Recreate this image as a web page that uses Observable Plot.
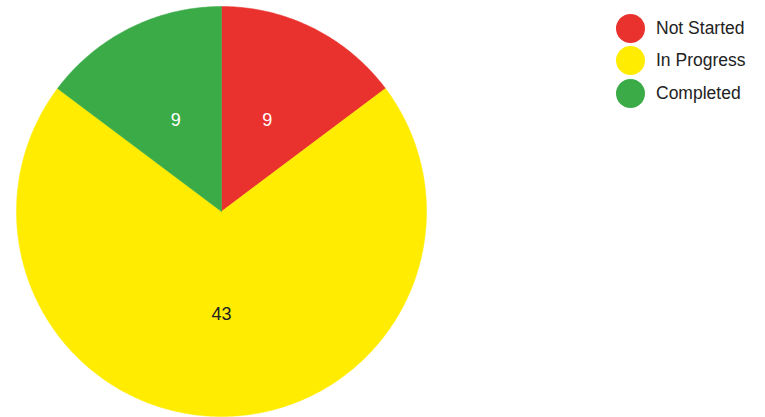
<!DOCTYPE html>
<html>
<head>
<meta charset="utf-8">
<script src="https://cdn.jsdelivr.net/npm/d3@7"></script>
<script src="https://cdn.jsdelivr.net/npm/@observablehq/plot@0.6"></script>
<style>
  body { margin: 0; background: #fff; }
  #wrap { position: relative; width: 765px; height: 417px; font-family: "Liberation Sans", Arial, sans-serif; }
  #legend { position: absolute; left: 616px; top: 12px; }
  .row { display: flex; align-items: center; height: 32.5px; }
  .sw { width: 29px; height: 29px; border-radius: 50%; margin-right: 11px; }
  .lab { font-size: 17.5px; color: #222; }
</style>
</head>
<body>
<div id="wrap"></div>
<script>
const categories = ["Not Started", "In Progress", "Completed"];
const values = [9, 43, 9];
const colors = ["#e9322e", "#ffec00", "#3bab48"];
const labelColors = ["#ffffff", "#222222", "#ffffff"];

const data = categories.map((c, i) => ({category: c, value: values[i]}));
const arcs = d3.pie().sort(null).value(d => d.value)(data);

// polygon vertices in unit-circle space, angle 0 at top, clockwise
const poly = [];
arcs.forEach(a => {
  const n = Math.max(2, Math.ceil((a.endAngle - a.startAngle) / 0.01));
  poly.push({category: a.data.category, x: 0, y: 0});
  for (let k = 0; k <= n; k++) {
    const t = a.startAngle + (a.endAngle - a.startAngle) * k / n;
    poly.push({category: a.data.category, x: Math.sin(t), y: Math.cos(t)});
  }
  poly.push({category: a.data.category, x: 0, y: 0});
});
const labels = arcs.map((a, i) => {
  const m = (a.startAngle + a.endAngle) / 2;
  return {category: a.data.category, value: a.data.value, x: 0.5 * Math.sin(m), y: 0.5 * Math.cos(m), c: labelColors[i]};
});

const chart = Plot.plot({
  width: 765,
  height: 417,
  marginLeft: 16,
  marginRight: 339,
  marginTop: 6,
  marginBottom: 1,
  x: {domain: [-1, 1], axis: null},
  y: {domain: [-1, 1], axis: null},
  color: {domain: categories, range: colors},
  style: {fontFamily: "'Liberation Sans', Arial, sans-serif", background: "#fff"},
  marks: [
    Plot.line(poly, {x: "x", y: "y", z: "category", fill: "category", stroke: "category", strokeWidth: 0.5, curve: "linear"}),
    Plot.text(labels, {x: "x", y: "y", text: d => String(d.value), fill: d => d.c, fontSize: 18})
  ]
});
document.getElementById("wrap").appendChild(chart);

const legend = document.createElement("div");
legend.id = "legend";
categories.forEach((c, i) => {
  const row = document.createElement("div");
  row.className = "row";
  const sw = document.createElement("div");
  sw.className = "sw";
  sw.style.background = colors[i];
  const lab = document.createElement("span");
  lab.className = "lab";
  lab.textContent = c;
  row.appendChild(sw);
  row.appendChild(lab);
  legend.appendChild(row);
});
document.getElementById("wrap").appendChild(legend);
</script>
</body>
</html>
